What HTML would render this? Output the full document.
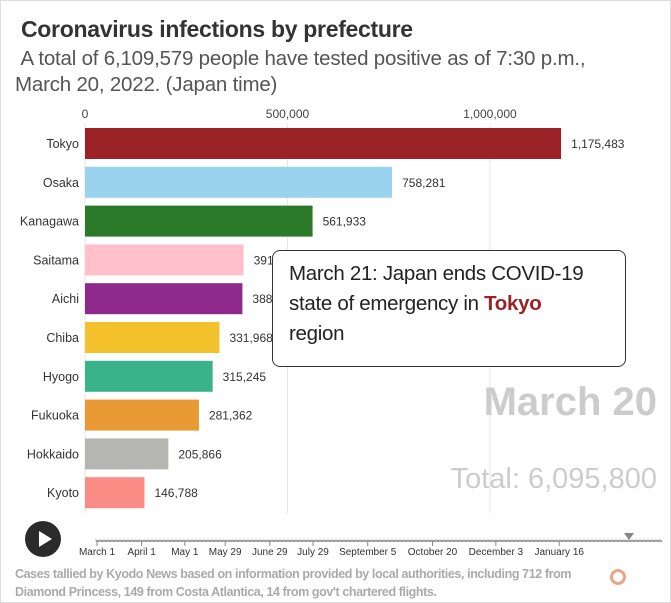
<!DOCTYPE html>
<html><head><meta charset="utf-8"><style>
body{margin:0;background:#fff;font-family:"Liberation Sans",sans-serif}
#wrap{position:relative;width:669px;height:601px;border:1px solid #ddd;overflow:hidden}
.t{position:absolute;white-space:nowrap}
</style></head><body>
<div id="wrap">
<div class="t" style="left:20px;top:15px;font-size:23px;letter-spacing:-0.3px;font-weight:bold;color:#333">Coronavirus infections by prefecture</div>
<div class="t" style="left:14px;top:45px;font-size:20.5px;letter-spacing:-0.2px;line-height:26px;color:#555">&nbsp;A total of 6,109,579 people have tested positive as of 7:30 p.m.,<br>March 20, 2022. (Japan time)</div>
<svg id="svg" width="671" height="603" style="position:absolute;left:0;top:0"></svg>
<div class="t" style="left:271px;top:249px;width:336px;height:107px;border:1.5px solid #333;border-radius:8px;background:#fff;padding:8px 0 0 16px;font-size:20.5px;letter-spacing:-0.3px;line-height:30px;color:#222;white-space:normal">March 21: Japan ends COVID-19 state of emergency in <b style="color:#9b2226">Tokyo</b><br>region</div>
<div class="t" style="right:13px;top:379px;font-size:40px;font-weight:bold;color:#ccc">March 20</div>
<div class="t" style="right:13px;top:462px;font-size:29px;color:#ccc">Total: 6,095,800</div>
<div class="t" style="left:24px;top:520px;width:36px;height:36px;border-radius:50%;background:#2b2b2b"><div style="position:absolute;left:14px;top:10px;border-left:13px solid #fff;border-top:8px solid transparent;border-bottom:8px solid transparent"></div></div>
<div class="t" style="left:14px;top:564px;font-size:12.5px;letter-spacing:-0.4px;line-height:18px;color:#aaa;font-weight:bold">Cases tallied by Kyodo News based on information provided by local authorities, including 712 from<br>Diamond Princess, 149 from Costa Atlantica, 14 from gov't chartered flights.</div>
<div class="t" style="left:609px;top:568px;width:10px;height:10px;border-radius:50%;border:3px solid #e9a58a"></div>
</div>
<script>
const categories=["Tokyo","Osaka","Kanagawa","Saitama","Aichi","Chiba","Hyogo","Fukuoka","Hokkaido","Kyoto"];
const values=[1175483,758281,561933,391694,388701,331968,315245,281362,205866,146788];
const colors=["#9b2226","#99d3ee","#2a7a2a","#ffc0cb","#8e2a8e","#f3c12b","#3ab38a","#e99a35","#b5b5b2","#fa8b85"];
const ticks=[0,500000,1000000];
const dates=["March 1","April 1","May 1","May 29","June 29","July 29","September 5","October 20","December 3","January 16"];
const datePos=[0,31,61,89,120,150,188,233,277,321];
const NS="http://www.w3.org/2000/svg",svg=document.getElementById("svg");
const x=v=>84+v*0.000405, y=i=>127+i*38.8;
function mk(t,a,txt){const e=document.createElementNS(NS,t);for(const k in a)e.setAttribute(k,a[k]);if(txt!=null)e.textContent=txt;svg.appendChild(e);return e;}
ticks.forEach(t=>{
 const g=mk("line",{x1:x(t),x2:x(t),y1:122,y2:512,stroke:"#e5e5e5"});
 
 
 const l=mk("text",{x:x(t),y:117,"text-anchor":"middle","font-size":12,fill:"#444"},t.toLocaleString("en-US"));
 
 
});
categories.forEach((c,i)=>{
 const r=mk("rect",{x:x(0),y:y(i),width:x(values[i])-x(0),height:31,fill:colors[i]});
 
 
 const l=mk("text",{x:78,y:y(i)+20,"text-anchor":"end","font-size":12.5,fill:"#333"},c);
 
 
 const v=mk("text",{x:x(values[i])+10,y:y(i)+20,"font-size":12,fill:"#333"},values[i].toLocaleString("en-US"));
 
 
});
const tl=mk("line",{x1:95,x2:661,y1:540,y2:540,stroke:"#999","stroke-width":2});


for(let p=95;p<=661;p+=4){mk("line",{x1:p,x2:p,y1:538,y2:541,stroke:"#bbb"});}
const tx=d=>96+d*1.44;
dates.forEach((d,i)=>{
 mk("line",{x1:tx(datePos[i]),x2:tx(datePos[i]),y1:540,y2:545,stroke:"#888"});
 const l=mk("text",{x:tx(datePos[i]),y:554,"text-anchor":"middle","font-size":10,fill:"#333"},d);
 
 
});
const h=mk("path",{d:"M623 532 L633 532 L628 539 Z",fill:"#888"});


</script>
</body></html>
